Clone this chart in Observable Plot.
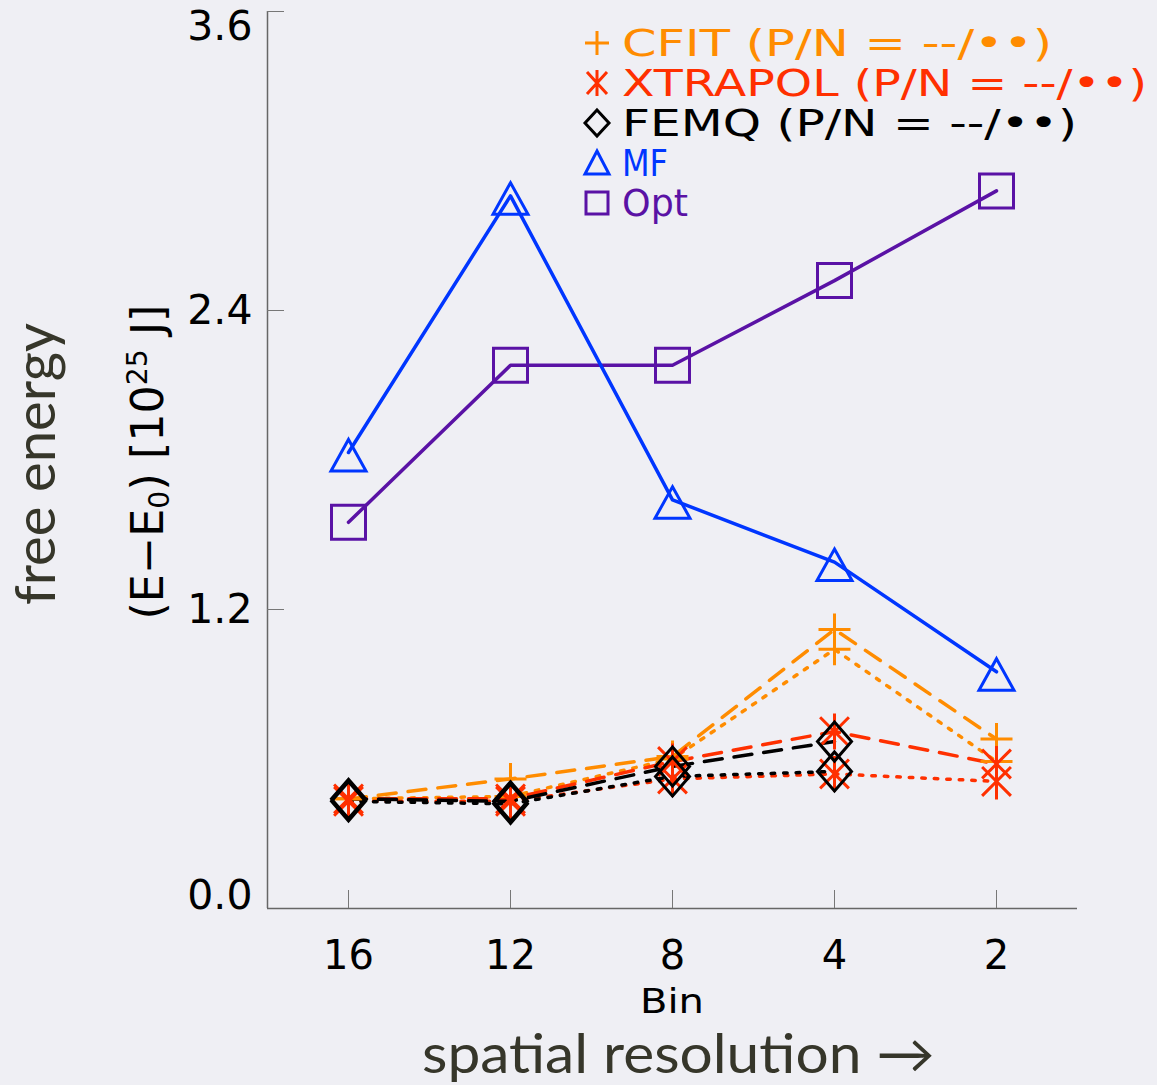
<!DOCTYPE html>
<html>
<head>
<meta charset="utf-8">
<script src="https://cdn.jsdelivr.net/npm/d3@7"></script>
<script src="https://cdn.jsdelivr.net/npm/@observablehq/plot@0.6"></script>
<style>
  html, body { margin: 0; padding: 0; background: #efeff4; overflow: hidden; }
  #wrap { position: relative; width: 1157px; height: 1085px; }
  #chart { position: absolute; left: 0; top: 0; }
  #overlay { position: absolute; left: 0; top: 0; pointer-events: none; }
</style>
</head>
<body>
<div id="wrap">
  <div id="chart"></div>
  <svg id="overlay" width="1157" height="1085">
    <g font-family="DejaVu Sans" font-size="38" fill="none" stroke-width="3">
      <path d="M585,43H609M597,31V55" stroke="#ff8c00"/>
      <path d="M597,70V96M587,72L607,94M587,94L607,72" stroke="#ff3000"/>
      <path d="M597,110L609,123L597,136L585,123Z" stroke="#000"/>
      <path d="M597,151L609,174L585,174Z" stroke="#0036ff"/>
      <path d="M586,192H608V214H586Z" stroke="#5a12a5"/>
      <text x="622" y="56" fill="#ff8c00" stroke="none" textLength="430" lengthAdjust="spacingAndGlyphs" xml:space="preserve">CFIT (P/N = --/••)</text>
      <text x="622" y="96" fill="#ff3000" stroke="none" textLength="525" lengthAdjust="spacingAndGlyphs" xml:space="preserve">XTRAPOL (P/N = --/••)</text>
      <text x="622" y="136" fill="#000" stroke="none" textLength="455" lengthAdjust="spacingAndGlyphs" xml:space="preserve">FEMQ (P/N = --/••)</text>
      <text x="622" y="176" fill="#0036ff" stroke="none" textLength="46" lengthAdjust="spacingAndGlyphs">MF</text>
      <text x="622" y="216" fill="#5a12a5" stroke="none" textLength="66" lengthAdjust="spacingAndGlyphs">Opt</text>
    </g>
    <text transform="translate(163,462) rotate(-90)" text-anchor="middle" font-family="DejaVu Sans" font-size="44" fill="#000" textLength="315" lengthAdjust="spacingAndGlyphs">(E−E<tspan font-size="28" dy="6">0</tspan><tspan dy="-6">) [10</tspan><tspan font-size="28" dy="-16">25</tspan><tspan dy="16"> J]</tspan></text>
    <text x="672" y="1013" text-anchor="middle" font-family="DejaVu Sans" font-size="33" fill="#000" textLength="64" lengthAdjust="spacingAndGlyphs">Bin</text>
    <text transform="translate(55,464) rotate(-90)" text-anchor="middle" font-family="Lato" font-weight="400" font-size="56" fill="#36362a" textLength="282" lengthAdjust="spacingAndGlyphs">free energy</text>
    <text x="422" y="1073" font-family="Lato" font-weight="400" font-size="54" fill="#36362a" textLength="513" lengthAdjust="spacingAndGlyphs">spatial resolution →</text>
  </svg>
</div>
<script>
// ---- data ----
const binLabels = ["16", "12", "8", "4", "2"];
const binIndex = [0, 1, 2, 3, 4];
const yTicksMid = [1.2, 2.4];
const yTickTop = [3.6];
const yTickBottom = [0];

const cfitP = [0.44, 0.52, 0.61, 1.12, 0.68];
const cfitN = [0.44, 0.45, 0.60, 1.04, 0.59];
const xtrapolP = [0.44, 0.44, 0.59, 0.71, 0.58];
const xtrapolN = [0.43, 0.43, 0.52, 0.54, 0.51];
const femqP = [0.44, 0.43, 0.57, 0.67];
const femqN = [0.43, 0.42, 0.53, 0.55];
const mf = [1.83, 2.86, 1.64, 1.39, 0.95];
const opt = [1.55, 2.18, 2.18, 2.52, 2.88];

// ---- styling ----
const ORANGE = "#ff8c00", RED = "#ff3000", BLACK = "#000000", BLUE = "#0036ff", PURPLE = "#5a12a5";
const DASH = "18,12", DOT = "3.5,9";
const LW = 3.5;

const rad = (size) => Math.sqrt(size / Math.PI);
const symPlus = {draw(c, s) { const r = rad(s); c.moveTo(-r, 0); c.lineTo(r, 0); c.moveTo(0, -r); c.lineTo(0, r); }};
const symAst = {draw(c, s) { const r = rad(s), a = r * 0.8; c.moveTo(0, -r); c.lineTo(0, r); c.moveTo(-a, -a); c.lineTo(a, a); c.moveTo(-a, a); c.lineTo(a, -a); }};
const symDiamond = {draw(c, s) { const r = rad(s); c.moveTo(0, -r * 1.15); c.lineTo(r, 0); c.lineTo(0, r * 1.15); c.lineTo(-r, 0); c.closePath(); }};
const symTri = {draw(c, s) { const r = rad(s); c.moveTo(0, -r * 0.75); c.lineTo(r, r * 1.05); c.lineTo(-r, r * 1.05); c.closePath(); }};
const symSquare = {draw(c, s) { const r = rad(s); c.moveTo(-r, -r); c.lineTo(r, -r); c.lineTo(r, r); c.lineTo(-r, r); c.closePath(); }};

const X = (d, i) => i;
const Y = (d) => d;

function series(values, stroke, dash) {
  return Plot.line(values, {x: X, y: Y, stroke, strokeWidth: LW, strokeDasharray: dash});
}
function markers(values, stroke, symbol, r) {
  return Plot.dot(values, {x: X, y: Y, stroke, strokeWidth: 3, fill: "none", symbol, r});
}
const yAxisOpts = {tickFormat: d3.format(".1f"), tickSize: -17, tickPadding: 32, fontSize: 41, stroke: "#777", fill: "#000", label: null};

const chart = Plot.plot({
  width: 1157,
  height: 1085,
  marginLeft: 267,
  marginRight: 80,
  marginTop: 11,
  marginBottom: 177,
  style: {background: "transparent", fontFamily: "DejaVu Sans", overflow: "visible"},
  x: {type: "linear", domain: [-0.5, 4.5]},
  y: {domain: [0, 3.6]},
  marks: [
    Plot.ruleX([-0.5], {y1: 0, y2: 3.6, stroke: "#666", strokeWidth: 1.5}),
    Plot.ruleY([0], {x1: -0.5, x2: 4.5, stroke: "#666", strokeWidth: 1.5}),
    Plot.axisY(yTicksMid, {...yAxisOpts}),
    Plot.axisY(yTickTop, {...yAxisOpts, fill: "none"}),
    Plot.axisY(yTickTop, {...yAxisOpts, tickSize: 0, tickPadding: 15, dy: 15}),
    Plot.axisY(yTickBottom, {...yAxisOpts, tickSize: 0, tickPadding: 15, dy: -13}),
    Plot.axisX({ticks: binIndex, tickFormat: (i) => binLabels[i], tickSize: -18, tickPadding: 50, fontSize: 40, stroke: "#777", fill: "#000", label: null}),
    series(cfitP, ORANGE, DASH),
    series(cfitN, ORANGE, DOT),
    series(xtrapolP, RED, DASH),
    series(xtrapolN, RED, DOT),
    series(femqP, BLACK, DASH),
    series(femqN, BLACK, DOT),
    markers(cfitP, ORANGE, symPlus, 16),
    markers(cfitN, ORANGE, symPlus, 16),
    markers(xtrapolP, RED, symAst, 18),
    markers(xtrapolN, RED, symAst, 18),
    markers(femqP, BLACK, symDiamond, 17),
    markers(femqN, BLACK, symDiamond, 17),
    Plot.line(opt, {x: X, y: Y, stroke: PURPLE, strokeWidth: LW}),
    markers(opt, PURPLE, symSquare, 17),
    Plot.line(mf, {x: X, y: Y, stroke: BLUE, strokeWidth: LW}),
    markers(mf, BLUE, symTri, 17.5)
  ]
});
document.getElementById("chart").appendChild(chart);
</script>
</body>
</html>
